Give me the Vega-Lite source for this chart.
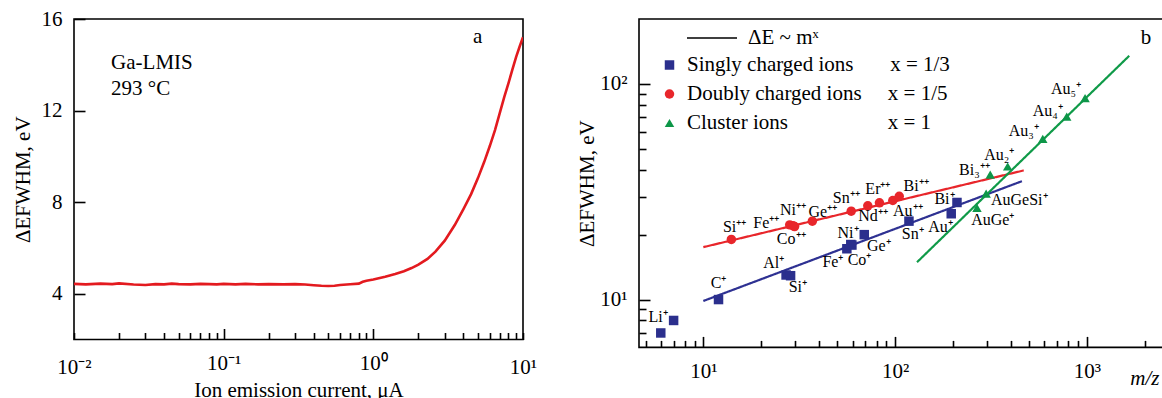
{
  "$schema": "https://vega.github.io/schema/vega-lite/v6.json",
  "background": "white",
  "padding": {"left": 11, "top": 7, "right": 0, "bottom": 0},
  "spacing": 116,
  "bounds": "flush",
  "datasets": {
    "curve": [
      {"I": 0.01, "dE": 4.43}, {"I": 0.012, "dE": 4.41}, {"I": 0.015, "dE": 4.44}, {"I": 0.018, "dE": 4.42},
      {"I": 0.02, "dE": 4.45}, {"I": 0.025, "dE": 4.4}, {"I": 0.03, "dE": 4.38}, {"I": 0.035, "dE": 4.42},
      {"I": 0.04, "dE": 4.41}, {"I": 0.045, "dE": 4.44}, {"I": 0.05, "dE": 4.42}, {"I": 0.06, "dE": 4.41},
      {"I": 0.07, "dE": 4.43}, {"I": 0.08, "dE": 4.42}, {"I": 0.09, "dE": 4.41}, {"I": 0.1, "dE": 4.43},
      {"I": 0.12, "dE": 4.41}, {"I": 0.14, "dE": 4.43}, {"I": 0.17, "dE": 4.41}, {"I": 0.2, "dE": 4.42},
      {"I": 0.25, "dE": 4.41}, {"I": 0.3, "dE": 4.42}, {"I": 0.35, "dE": 4.4}, {"I": 0.4, "dE": 4.37},
      {"I": 0.45, "dE": 4.35}, {"I": 0.5, "dE": 4.34}, {"I": 0.55, "dE": 4.35}, {"I": 0.6, "dE": 4.38},
      {"I": 0.7, "dE": 4.41}, {"I": 0.8, "dE": 4.44}, {"I": 0.85, "dE": 4.52}, {"I": 0.9, "dE": 4.57},
      {"I": 1.0, "dE": 4.62}, {"I": 1.2, "dE": 4.74}, {"I": 1.4, "dE": 4.86}, {"I": 1.6, "dE": 4.98},
      {"I": 1.8, "dE": 5.12}, {"I": 2.0, "dE": 5.27}, {"I": 2.3, "dE": 5.52}, {"I": 2.6, "dE": 5.84},
      {"I": 3.0, "dE": 6.32}, {"I": 3.5, "dE": 7.0}, {"I": 4.0, "dE": 7.7}, {"I": 4.5, "dE": 8.35},
      {"I": 5.0, "dE": 9.05}, {"I": 5.5, "dE": 9.75}, {"I": 6.0, "dE": 10.45}, {"I": 6.5, "dE": 11.15},
      {"I": 7.0, "dE": 11.9}, {"I": 7.5, "dE": 12.6}, {"I": 8.0, "dE": 13.2}, {"I": 8.5, "dE": 13.8},
      {"I": 9.0, "dE": 14.35}, {"I": 9.5, "dE": 14.8}, {"I": 10.0, "dE": 15.2}
    ],
    "notesA": [
      {"text": "Ga-LMIS", "I": 0.0177, "dE": 14.09},
      {"text": "293 °C", "I": 0.0177, "dE": 12.94},
      {"text": "a", "I": 4.63, "dE": 15.22}
    ],
    "fits": [
      {"fit": "Singly", "m": 10, "E": 9.85}, {"fit": "Singly", "m": 458, "E": 35.4},
      {"fit": "Doubly", "m": 10, "E": 17.5}, {"fit": "Doubly", "m": 468, "E": 39.7},
      {"fit": "Cluster", "m": 130, "E": 14.9}, {"fit": "Cluster", "m": 1660, "E": 135}
    ],
    "ions": [
      {"ion": "Li+ (6)", "series": "Singly charged ions", "m": 6, "E": 7.0},
      {"ion": "Li+ (7)", "series": "Singly charged ions", "m": 7, "E": 8.0},
      {"ion": "C+", "series": "Singly charged ions", "m": 12, "E": 10.0},
      {"ion": "Al+", "series": "Singly charged ions", "m": 27, "E": 13.0},
      {"ion": "Si+", "series": "Singly charged ions", "m": 28.5, "E": 12.9},
      {"ion": "Fe+", "series": "Singly charged ions", "m": 56, "E": 17.2},
      {"ion": "Ni+", "series": "Singly charged ions", "m": 58.7, "E": 18.0},
      {"ion": "Co+", "series": "Singly charged ions", "m": 59.5, "E": 17.9},
      {"ion": "Ge+", "series": "Singly charged ions", "m": 69, "E": 20.0},
      {"ion": "Sn+", "series": "Singly charged ions", "m": 118, "E": 23.1},
      {"ion": "Au+", "series": "Singly charged ions", "m": 196, "E": 25.0},
      {"ion": "Bi+", "series": "Singly charged ions", "m": 210, "E": 28.2},
      {"ion": "Si++", "series": "Doubly charged ions", "m": 14, "E": 19.0},
      {"ion": "Fe++", "series": "Doubly charged ions", "m": 28.2, "E": 22.2},
      {"ion": "Ni++", "series": "Doubly charged ions", "m": 29.3, "E": 22.0},
      {"ion": "Co++", "series": "Doubly charged ions", "m": 29.9, "E": 21.8},
      {"ion": "Ge++", "series": "Doubly charged ions", "m": 37, "E": 23.1},
      {"ion": "Sn++", "series": "Doubly charged ions", "m": 59, "E": 25.7},
      {"ion": "Nd++", "series": "Doubly charged ions", "m": 72, "E": 27.2},
      {"ion": "Er++", "series": "Doubly charged ions", "m": 82.8, "E": 28.1},
      {"ion": "Au++", "series": "Doubly charged ions", "m": 97.2, "E": 28.8},
      {"ion": "Bi++", "series": "Doubly charged ions", "m": 105, "E": 30.1},
      {"ion": "AuGe+", "series": "Cluster ions", "m": 267, "E": 26.6},
      {"ion": "AuGeSi+", "series": "Cluster ions", "m": 298, "E": 31.0},
      {"ion": "Bi3++", "series": "Cluster ions", "m": 313, "E": 38.0},
      {"ion": "Au2+", "series": "Cluster ions", "m": 386, "E": 41.4},
      {"ion": "Au3+", "series": "Cluster ions", "m": 588, "E": 55.6},
      {"ion": "Au4+", "series": "Cluster ions", "m": 784, "E": 70.6},
      {"ion": "Au5+", "series": "Cluster ions", "m": 977, "E": 86.0}
    ],
    "ionLabels": [
      {"label": "Li⁺", "m": 5.81, "E": 8.31},
      {"label": "C⁺", "m": 12.0, "E": 11.9},
      {"label": "Al⁺", "m": 23.3, "E": 14.7},
      {"label": "Si⁺", "m": 31.1, "E": 11.4},
      {"label": "Fe⁺", "m": 47.4, "E": 14.9},
      {"label": "Co⁺", "m": 65.2, "E": 15.3},
      {"label": "Ni⁺", "m": 56.8, "E": 20.4},
      {"label": "Ge⁺", "m": 82.2, "E": 17.8},
      {"label": "Sn⁺", "m": 123.6, "E": 20.2},
      {"label": "Au⁺", "m": 172.2, "E": 21.8},
      {"label": "Bi⁺", "m": 180.7, "E": 29.4},
      {"label": "Si⁺⁺", "m": 14.56, "E": 21.8},
      {"label": "Fe⁺⁺", "m": 21.3, "E": 22.6},
      {"label": "Ni⁺⁺", "m": 29.3, "E": 26.1},
      {"label": "Ge⁺⁺", "m": 42.0, "E": 25.6},
      {"label": "Co⁺⁺", "m": 28.7, "E": 19.1},
      {"label": "Sn⁺⁺", "m": 55.6, "E": 29.7},
      {"label": "Er⁺⁺", "m": 81.3, "E": 32.6},
      {"label": "Bi⁺⁺", "m": 128.5, "E": 33.6},
      {"label": "Nd⁺⁺", "m": 76.6, "E": 24.3},
      {"label": "Au⁺⁺", "m": 116.4, "E": 25.7},
      {"label": "AuGeSi⁺", "m": 443.6, "E": 29.0},
      {"label": "AuGe⁺", "m": 322.8, "E": 23.3},
      {"label": "Bi₃⁺⁺", "m": 259, "E": 40.0},
      {"label": "Au₂⁺", "m": 349, "E": 46.6},
      {"label": "Au₃⁺", "m": 468, "E": 60.4},
      {"label": "Au₄⁺", "m": 624, "E": 75.2},
      {"label": "Au₅⁺", "m": 778, "E": 94.8}
    ],
    "notesB": [
      {"text": "b", "m": 2028, "E": 164}
    ]
  },
  "hconcat": [
    {
      "width": 449,
      "height": 320.5,
      "layer": [
        {
          "data": {"name": "curve"},
          "mark": {"type": "line", "color": "#e31a1f", "strokeWidth": 2.6, "clip": true},
          "encoding": {
            "x": {
              "field": "I", "type": "quantitative",
              "scale": {"type": "log", "domain": [0.01, 10], "nice": false},
              "axis": {
                "values": [0.01, 0.02, 0.03, 0.04, 0.05, 0.06, 0.07, 0.08, 0.09, 0.1, 0.2, 0.3, 0.4, 0.5, 0.6, 0.7, 0.8, 0.9, 1, 2, 3, 4, 5, 6, 7, 8, 9, 10],
                "labelExpr": "datum.value == 0.01 ? '10⁻²' : datum.value == 0.1 ? '10⁻¹' : datum.value == 1 ? '10⁰' : datum.value == 10 ? '10¹' : ''",
                "tickSize": {"condition": {"test": "datum.value == 0.1 || datum.value == 1", "value": -11}, "value": -7},
                "labelPadding": 24,
                "title": "Ion emission current, μA",
                "titlePadding": 2
              }
            },
            "y": {
              "field": "dE", "type": "quantitative",
              "scale": {"domain": [2, 16], "nice": false, "zero": false},
              "axis": {
                "values": [4, 8, 12, 16],
                "tickSize": -11,
                "labelPadding": 23,
                "title": "ΔEFWHM, eV",
                "titlePadding": 8
              }
            }
          }
        },
        {
          "data": {"name": "notesA"},
          "mark": {"type": "text", "align": "left", "baseline": "middle", "fontSize": 21, "font": "Liberation Serif", "color": "black"},
          "encoding": {
            "x": {"field": "I", "type": "quantitative"},
            "y": {"field": "dE", "type": "quantitative"},
            "text": {"field": "text"}
          }
        }
      ]
    },
    {
      "width": 524,
      "height": 328.4,
      "layer": [
        {
          "data": {"name": "fits"},
          "mark": {"type": "line", "strokeWidth": 2.2, "clip": true},
          "encoding": {
            "x": {
              "field": "m", "type": "quantitative",
              "scale": {"type": "log", "domain": [4.62, 2490], "nice": false},
              "axis": {
                "values": [5, 6, 7, 8, 9, 10, 20, 30, 40, 50, 60, 70, 80, 90, 100, 200, 300, 400, 500, 600, 700, 800, 900, 1000, 2000],
                "labelExpr": "datum.value == 10 ? '10¹' : datum.value == 100 ? '10²' : datum.value == 1000 ? '10³' : ''",
                "tickSize": {"condition": {"test": "datum.value == 10 || datum.value == 100 || datum.value == 1000", "value": -11}, "value": -7},
                "labelPadding": 24,
                "title": "m/z",
                "titleFontStyle": "italic",
                "titleAnchor": "end",
                "titleAlign": "right",
                "titleBaseline": "middle",
                "titleX": 520,
                "titleY": 31
              }
            },
            "y": {
              "field": "E", "type": "quantitative",
              "scale": {"type": "log", "domain": [6, 200], "nice": false},
              "axis": {
                "values": [7, 8, 9, 10, 20, 30, 40, 50, 60, 70, 80, 90, 100],
                "labelExpr": "datum.value == 10 ? '10¹' : datum.value == 100 ? '10²' : ''",
                "tickSize": {"condition": {"test": "datum.value == 10 || datum.value == 100", "value": -11}, "value": -7},
                "labelPadding": 23,
                "title": "ΔEFWHM, eV",
                "titlePadding": 2
              }
            },
            "detail": {"field": "fit"},
            "stroke": {
              "field": "fit", "type": "nominal",
              "scale": {"domain": ["Singly", "Doubly", "Cluster"], "range": ["#2e3192", "#e8262b", "#0f9a48"]},
              "legend": null
            },
            "strokeDash": {
              "datum": "ΔE ~ mˣ",
              "scale": {"range": [[1, 0]]},
              "legend": {
                "orient": "none", "legendX": 612, "legendY": -7, "title": null,
                "symbolType": "stroke", "symbolSize": 2500, "symbolStrokeColor": "black", "symbolStrokeWidth": 1.5,
                "labelOffset": 10, "labelFontSize": 21, "labelFont": "Liberation Serif"
              }
            }
          }
        },
        {
          "data": {"name": "ions"},
          "mark": {"type": "point", "filled": true, "opacity": 1, "size": 90},
          "encoding": {
            "x": {"field": "m", "type": "quantitative"},
            "y": {"field": "E", "type": "quantitative"},
            "color": {
              "field": "series", "type": "nominal",
              "scale": {"domain": ["Singly charged ions", "Doubly charged ions", "Cluster ions"], "range": ["#2b2f8d", "#e8262b", "#0d9648"]},
              "legend": {
                "orient": "none", "legendX": 585, "legendY": 35.5, "title": null,
                "rowPadding": 7, "labelOffset": 7, "labelFontSize": 21, "labelFont": "Liberation Serif", "symbolSize": 90,
                "labelLimit": 500,
                "labelExpr": "datum.label == 'Singly charged ions' ? datum.label + '\u00a0\u00a0\u00a0\u00a0\u00a0\u00a0\u00a0x = 1/3' : datum.label == 'Doubly charged ions' ? datum.label + '\u00a0\u00a0\u00a0\u00a0\u00a0x = 1/5' : datum.label + '\u00a0\u00a0\u00a0\u00a0\u00a0\u00a0\u00a0\u00a0\u00a0\u00a0\u00a0\u00a0\u00a0\u00a0\u00a0\u00a0\u00a0\u00a0\u00a0x = 1'"
              }
            },
            "shape": {
              "field": "series", "type": "nominal",
              "scale": {"domain": ["Singly charged ions", "Doubly charged ions", "Cluster ions"], "range": ["square", "circle", "triangle-up"]}
            }
          }
        },
        {
          "data": {"name": "ionLabels"},
          "mark": {"type": "text", "align": "center", "baseline": "middle", "fontSize": 16, "font": "Liberation Serif", "color": "black"},
          "encoding": {
            "x": {"field": "m", "type": "quantitative"},
            "y": {"field": "E", "type": "quantitative"},
            "text": {"field": "label"}
          }
        },
        {
          "data": {"name": "notesB"},
          "mark": {"type": "text", "align": "center", "baseline": "middle", "fontSize": 21, "font": "Liberation Serif", "color": "black"},
          "encoding": {
            "x": {"field": "m", "type": "quantitative"},
            "y": {"field": "E", "type": "quantitative"},
            "text": {"field": "text"}
          }
        }
      ]
    }
  ],
  "config": {
    "font": "Liberation Serif",
    "view": {"stroke": "black", "strokeWidth": 1.6},
    "axis": {
      "domain": false, "grid": false,
      "labelFont": "Liberation Serif", "labelFontSize": 21, "labelColor": "black",
      "titleFont": "Liberation Serif", "titleFontSize": 21, "titleFontWeight": "normal", "titleColor": "black",
      "tickColor": "black", "tickWidth": 1.6,
      "labelFlush": false, "labelOverlap": false, "labelBound": false
    },
    "legend": {"labelColor": "black", "padding": 0}
  }
}
